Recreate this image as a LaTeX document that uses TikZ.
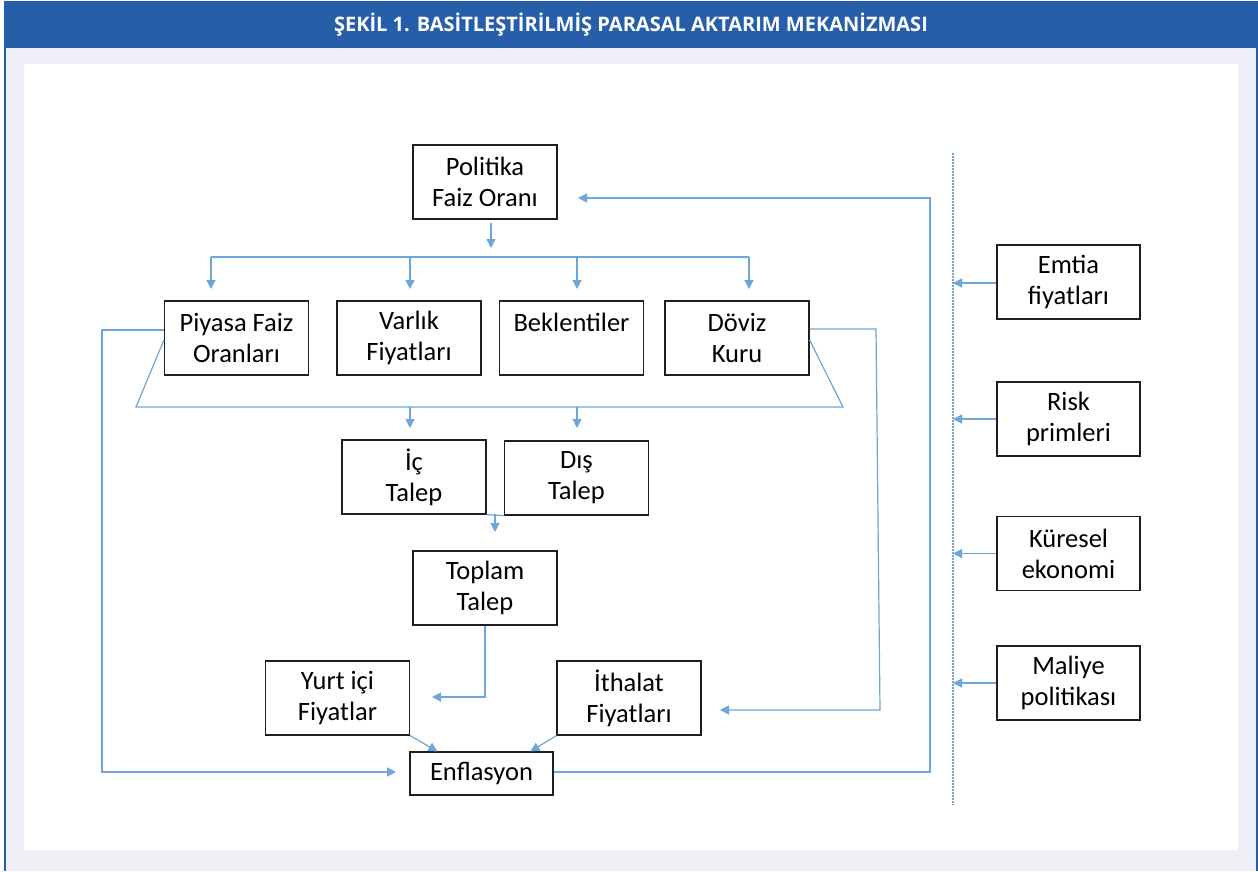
\documentclass[tikz,border=0pt]{standalone}
\usepackage{fontspec}
\setmainfont{Carlito}
\newfontfamily\hdrfont{Open Sans}
\usetikzlibrary{arrows.meta}
\definecolor{hdrblue}{RGB}{39,94,170}
\definecolor{lav}{RGB}{239,239,248}
\definecolor{conncol}{RGB}{108,166,218}
\definecolor{boxcol}{RGB}{30,30,30}
\tikzset{
  box/.style={draw=boxcol,line width=1.2pt,fill=white,minimum width=144pt,minimum height=74pt,inner sep=0pt,align=center,font=\fontsize{26.5}{31}\selectfont},
  conn/.style={draw=conncol,line width=1.2pt},
  arr/.style={conn,-{Triangle[length=9pt,width=9pt]}},
}
\begin{document}
\begin{tikzpicture}[x=1pt,y=-1pt]
\useasboundingbox (0,0) rectangle (1258,871);
% background
\fill[lav] (4,48) rectangle (1258,871);
\fill[white] (24,64) rectangle (1238,850);
\fill[hdrblue] (4,1) rectangle (1258,48);
\draw[hdrblue,line width=1.5pt] (5,48) -- (5,871);
\draw[hdrblue,line width=1.5pt] (1257,48) -- (1257,871);
\node[text=white,font=\hdrfont\bfseries\fontsize{20}{24}\selectfont] (title) at (631,25) {ŞEKİL 1. BASİTLEŞTİRİLMİŞ PARASAL AKTARIM MEKANİZMASI};
% nodes
\node[box] (pfo) at (485,182) {Politika\\Faiz Oranı};
\node[box] (piy) at (236.5,338) {Piyasa Faiz\\Oranları};
\node[box] (var) at (409,338) {Varlık\\Fiyatları};
\node[box] (bek) at (571.5,338) {Beklentiler\\\mbox{}};
\node[box] (dov) at (737,338) {Döviz\\Kuru};
\node[box] (ic) at (414,477) {İç\\Talep};
\node[box] (dis) at (576.5,478) {Dış\\Talep};
\node[box] (top) at (485,588) {Toplam\\Talep};
\node[box] (yurt) at (337.5,698) {Yurt içi\\Fiyatlar};
\node[box] (ith) at (629,698) {İthalat\\Fiyatları};
\node[box,minimum width=143pt,minimum height=43pt] (enf) at (481.5,773.5) {Enflasyon};
\node[box,minimum width=143pt] (emt) at (1068.5,282) {Emtia\\fiyatları};
\node[box,minimum width=143pt] (risk) at (1068.5,419) {Risk\\primleri};
\node[box,minimum width=143pt] (kur) at (1068.5,553.5) {Küresel\\ekonomi};
\node[box,minimum width=143pt] (mal) at (1068.5,683) {Maliye\\politikası};
% coordinates
\coordinate (pfoA) at (491,248);
\coordinate (busL) at (211,257);
\coordinate (busR) at (749,257);
\coordinate (b1) at (211,289);
\coordinate (b2) at (410,289);
\coordinate (b3) at (577,289);
\coordinate (b4) at (749,289);
\coordinate (leftX) at (102,330);
\coordinate (enfIn) at (396,772);
\coordinate (dl) at (136,407);
\coordinate (dr) at (843,407);
\coordinate (d1) at (410,428);
\coordinate (d2) at (577,428);
\coordinate (dovX) at (876,329);
\coordinate (dovY) at (880,710);
\coordinate (ithIn) at (720,710);
\coordinate (tj) at (495,514);
\coordinate (tjA) at (495,532);
\coordinate (topY) at (485,697);
\coordinate (yurtIn) at (432,697);
\coordinate (rx) at (930,772);
\coordinate (ry) at (930,198);
\coordinate (pfoIn) at (578,198);
\coordinate (dotT) at (953,153);
\coordinate (dotB) at (953,805);
% connectors
\draw[arr] ([xshift=6pt,yshift=-3pt]pfo.south) -- (pfoA);
\draw[conn] (busL) -- (busR);
\draw[arr] (busL) -- (b1);
\draw[arr] (b2 |- busL) -- (b2);
\draw[arr] (b3 |- busL) -- (b3);
\draw[arr] (busR) -- (b4);
\draw[arr] ([yshift=8pt]piy.west) -- (leftX) |- (enfIn);
\draw[conn] ([yshift=-2pt]piy.west) -- (dl) -- (dr) -- ([yshift=-2pt]dov.east);
\draw[arr] (d1 |- dl) -- (d1);
\draw[arr] (d2 |- dl) -- (d2);
\draw[arr] ([yshift=9pt]dov.east) -- (dovX) -- (dovY) -- (ithIn);
\draw[conn] (ic.south east) -- (dis.south west);
\draw[arr] (tj) -- (tjA);
\draw[arr] (top.south) -- (topY) -- (yurtIn);
\draw[arr] (yurt.south east) -- ([xshift=-44pt]enf.north);
\draw[arr] (ith.south west) -- ([xshift=49pt]enf.north);
\draw[arr] ([yshift=1.5pt]enf.east) -- (rx) -- (ry) -- (pfoIn);
\draw[conncol,line width=1.3pt,dash pattern=on 1.5pt off 1.5pt] (dotT) -- (dotB);
\draw[arr] ([yshift=-1pt]emt.west) -- ([yshift=-1pt]emt.west -| dotT);
\draw[arr] (risk.west) -- (risk.west -| dotT);
\draw[arr] (kur.west) -- (kur.west -| dotT);
\draw[arr] (mal.west) -- (mal.west -| dotT);
\end{tikzpicture}
\end{document}
